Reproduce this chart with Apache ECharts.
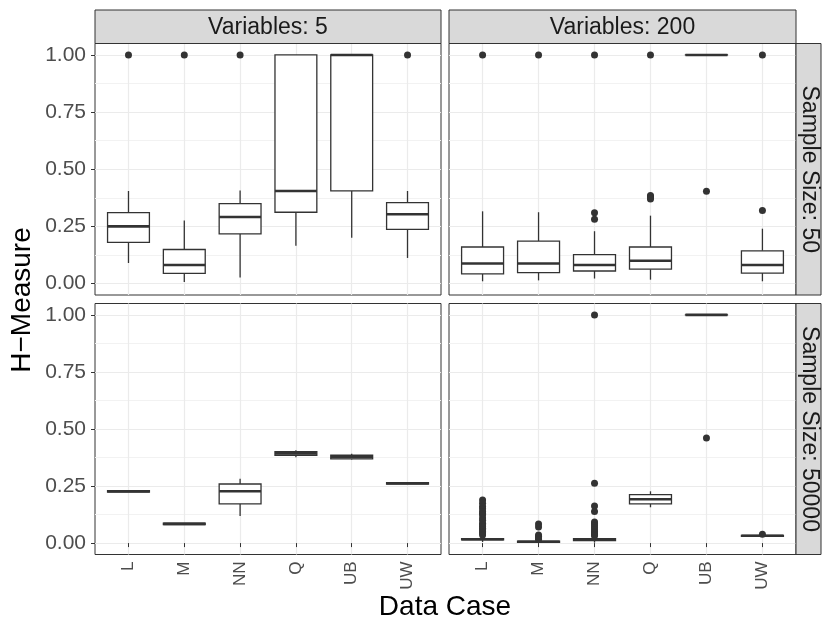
<!DOCTYPE html>
<html>
<head>
<meta charset="utf-8">
<script src="https://cdn.jsdelivr.net/npm/echarts@6/dist/echarts.min.js"></script>
<style>html,body{margin:0;padding:0;background:#fff;}#c{width:822px;height:624px;}</style>
</head>
<body>
<div id="c"></div>
<script>
const categories = ['L', 'M', 'NN', 'Q', 'UB', 'UW'];
const yTicks = [0, 0.25, 0.5, 0.75, 1];
const yMinorTicks = [0.125, 0.375, 0.625, 0.875];
const colFacets = ['Variables: 5', 'Variables: 200'];
const rowFacets = ['Sample Size: 50', 'Sample Size: 50000'];
const yTitle = 'H\u2212Measure';
const xTitle = 'Data Case';

// box stats per category: [min, Q1, median, Q3, max]
const boxV5N50 = [[0.09, 0.18, 0.25, 0.31, 0.405], [0.007, 0.045, 0.081, 0.149, 0.276], [0.026, 0.217, 0.291, 0.35, 0.407], [0.165, 0.312, 0.405, 1.0, 1.0], [0.2, 0.405, 1.0, 1.0, 1.0], [0.112, 0.237, 0.303, 0.354, 0.405]];
const outV5N50 = [[1.0], [1.0], [1.0], [], [], [1.0]];

const boxV200N50 = [[0.01, 0.042, 0.0875, 0.16, 0.316], [0.014, 0.048, 0.0875, 0.186, 0.312], [0.022, 0.055, 0.081, 0.127, 0.229], [0.017, 0.063, 0.1, 0.16, 0.297], [1.0, 1.0, 1.0, 1.0, 1.0], [0.01, 0.046, 0.081, 0.143, 0.24]];
const outV200N50 = [[1.0], [1.0], [1.0, 0.31, 0.281], [1.0, 0.385, 0.38, 0.375, 0.37], [0.404], [1.0, 0.32]];

const boxV5N50000 = [[0.224, 0.224, 0.227, 0.23, 0.23], [0.081, 0.081, 0.084, 0.087, 0.087], [0.119, 0.172, 0.227, 0.259, 0.282], [0.376, 0.385, 0.393, 0.401, 0.407], [0.366, 0.369, 0.377, 0.385, 0.391], [0.259, 0.259, 0.262, 0.265, 0.265]];
const outV5N50000 = [[], [], [], [], [], []];

const boxV200N50000 = [[0.005, 0.014, 0.017, 0.02, 0.03], [0.0, 0.003, 0.006, 0.009, 0.013], [0.002, 0.011, 0.015, 0.019, 0.03], [0.157, 0.172, 0.192, 0.2125, 0.227], [1.0, 1.0, 1.0, 1.0, 1.0], [0.028, 0.03, 0.032, 0.034, 0.036]];
const outV200N50000 = [
  [0.189, 0.175, 0.16, 0.15, 0.138, 0.13, 0.124, 0.11, 0.1, 0.087, 0.08, 0.073, 0.065, 0.058, 0.05, 0.044, 0.036],
  [0.084, 0.07, 0.036, 0.029, 0.022, 0.017],
  [1.0, 0.262, 0.163, 0.138, 0.092, 0.085, 0.076, 0.067, 0.058, 0.05, 0.044, 0.038, 0.032],
  [],
  [0.461],
  [0.039]
];

const panels = [
  { box: boxV5N50, out: outV5N50, row: 0, col: 0 },
  { box: boxV200N50, out: outV200N50, row: 0, col: 1 },
  { box: boxV5N50000, out: outV5N50000, row: 1, col: 0 },
  { box: boxV200N50000, out: outV200N50000, row: 1, col: 1 }
];

// layout
const colLeft = [95, 449];
const colWidth = [346, 347];
const rowTop = [43.5, 303.5];
const rowHeight = [251.5, 251];
const stripTop = 10;
const stripRightX = 796;
const stripW = 25;
const FONT = '"Liberation Sans", Arial, Helvetica, sans-serif';
const DARK = '#333333';

const grid = [], xAxis = [], yAxis = [], series = [];
panels.forEach((p, i) => {
  grid.push({
    left: colLeft[p.col], top: rowTop[p.row], width: colWidth[p.col], height: rowHeight[p.row],
    show: true, borderColor: DARK, borderWidth: 1, backgroundColor: 'transparent', containLabel: false
  });
  const isBottom = p.row === 1, isLeft = p.col === 0;
  xAxis.push({
    type: 'value', gridIndex: i, min: 0.4, max: 6.6, position: 'bottom',
    axisLine: { show: false },
    axisTick: { show: isBottom, length: 4, lineStyle: { color: DARK, width: 1 }, customValues: [1, 2, 3, 4, 5, 6] },
    axisLabel: {
      show: isBottom, customValues: [1, 2, 3, 4, 5, 6], rotate: 90, margin: 7,
      formatter: v => categories[Math.round(v) - 1], color: '#4d4d4d', fontSize: 17, fontFamily: FONT
    },
    splitLine: { show: true, lineStyle: { color: '#ebebeb', width: 1.2 } }
  });
  // minor grid axis
  yAxis.push({
    type: 'value', gridIndex: i, min: -0.05, max: 1.05, position: 'right',
    axisLine: { show: false },
    axisTick: { show: false, customValues: yMinorTicks },
    axisLabel: { show: false, customValues: yMinorTicks },
    splitLine: { show: true, lineStyle: { color: '#f2f2f2', width: 1 } }
  });
  yAxis.push({
    type: 'value', gridIndex: i, min: -0.05, max: 1.05, position: 'left',
    axisLine: { show: false },
    axisTick: { show: isLeft, length: 4, lineStyle: { color: DARK, width: 1 }, customValues: yTicks },
    axisLabel: {
      show: isLeft, customValues: yTicks, margin: 9,
      formatter: v => v.toFixed(2), color: '#4d4d4d', fontSize: 21, fontFamily: FONT
    },
    splitLine: { show: true, lineStyle: { color: '#ebebeb', width: 1.2 } }
  });
  series.push({
    type: 'custom', xAxisIndex: i, yAxisIndex: 2 * i + 1, z: 3,
    data: p.box.map((b, k) => [k + 1].concat(b)),
    renderItem: function (params, api) {
      const x = api.value(0);
      const mn = api.value(1), q1 = api.value(2), md = api.value(3), q3 = api.value(4), mx = api.value(5);
      const half = api.size([0.75, 0])[0] / 2;
      const pMax = api.coord([x, mx]), pQ3 = api.coord([x, q3]), pMd = api.coord([x, md]);
      const pQ1 = api.coord([x, q1]), pMin = api.coord([x, mn]);
      const ls = { stroke: DARK, lineWidth: 1.3, fill: null };
      return {
        type: 'group',
        children: [
          { type: 'line', shape: { x1: pMax[0], y1: pMax[1], x2: pQ3[0], y2: pQ3[1] }, style: ls },
          { type: 'line', shape: { x1: pQ1[0], y1: pQ1[1], x2: pMin[0], y2: pMin[1] }, style: ls },
          { type: 'rect', shape: { x: pQ3[0] - half, y: pQ3[1], width: 2 * half, height: Math.max(pQ1[1] - pQ3[1], 0.01) },
            style: { fill: '#ffffff', stroke: DARK, lineWidth: 1.3 } },
          { type: 'line', shape: { x1: pMd[0] - half, y1: pMd[1], x2: pMd[0] + half, y2: pMd[1] },
            style: { stroke: DARK, lineWidth: 2.6 } }
        ]
      };
    }
  });
  const pts = [];
  p.out.forEach((arr, k) => arr.forEach(v => pts.push([k + 1, v])));
  series.push({
    type: 'scatter', xAxisIndex: i, yAxisIndex: 2 * i + 1, z: 4,
    symbol: 'circle', symbolSize: 7,
    itemStyle: { color: DARK, opacity: 1 },
    data: pts, silent: true
  });
});

const graphic = [];
colFacets.forEach((t, c) => {
  graphic.push({ type: 'rect', shape: { x: colLeft[c], y: stripTop, width: colWidth[c], height: rowTop[0] - stripTop },
    style: { fill: '#d9d9d9', stroke: DARK, lineWidth: 1 }, z: 10 });
  graphic.push({ type: 'text', x: colLeft[c] + colWidth[c] / 2, y: (stripTop + rowTop[0]) / 2 + 1,
    style: { text: t, align: 'center', verticalAlign: 'middle', fill: '#1a1a1a', fontSize: 23, fontFamily: FONT }, z: 11 });
});
rowFacets.forEach((t, r) => {
  graphic.push({ type: 'rect', shape: { x: stripRightX, y: rowTop[r], width: stripW, height: rowHeight[r] },
    style: { fill: '#d9d9d9', stroke: DARK, lineWidth: 1 }, z: 10 });
  graphic.push({ type: 'text', x: stripRightX + stripW / 2 + 1, y: rowTop[r] + rowHeight[r] / 2, rotation: -Math.PI / 2,
    style: { text: t, align: 'center', verticalAlign: 'middle', fill: '#1a1a1a', fontSize: 23, fontFamily: FONT }, z: 11 });
});
graphic.push({ type: 'text', x: 22, y: 300, rotation: Math.PI / 2,
  style: { text: yTitle, align: 'center', verticalAlign: 'middle', fill: '#000000', fontSize: 28, fontFamily: FONT } });
graphic.push({ type: 'text', x: 445, y: 607,
  style: { text: xTitle, align: 'center', verticalAlign: 'middle', fill: '#000000', fontSize: 28, fontFamily: FONT } });

const chart = echarts.init(document.getElementById('c'), null, { renderer: 'canvas' });
chart.setOption({
  animation: false,
  backgroundColor: '#ffffff',
  grid, xAxis, yAxis, series, graphic
});
</script>
</body>
</html>
